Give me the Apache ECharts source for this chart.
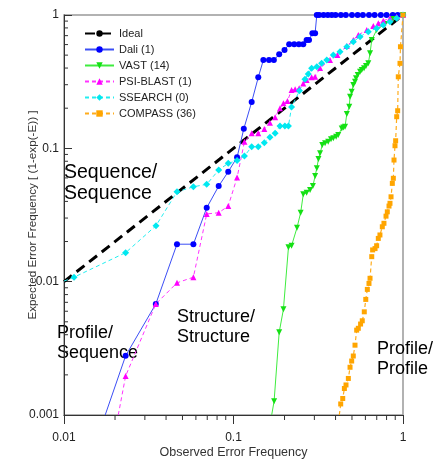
<!DOCTYPE html>
<html><head><meta charset="utf-8">
<script src="https://cdn.jsdelivr.net/npm/echarts@6/dist/echarts.min.js"></script>
<style>html,body{margin:0;padding:0;background:#fff}#c{width:436px;height:462px}</style>
</head><body><div id="c"></div>
<script>
const FONT = "'Liberation Sans', Arial, Helvetica, sans-serif";
const xTickLabels = ['0.01', '0.1', '1'];
const yTickLabels = ['0.001', '0.01', '0.1', '1'];
const seriesNames = ['Ideal', 'Dali (1)', 'VAST (14)', 'PSI-BLAST (1)', 'SSEARCH (0)', 'COMPASS (36)'];
const XMIN = 0.01, XMAX = 1, YMIN = 0.001, YMAX = 1;

const ideal = [[0.01, 0.01], [1, 1]];

const dali = [[0.0175,0.001],[0.0231,0.00278],[0.0348,0.0068],[0.0464,0.0191],[0.058,0.0191],[0.0695,0.0358],
  [0.0818,0.0521],[0.0931,0.0668],[0.105,0.0856],[0.115,0.14],[0.128,0.2225],[0.14,0.341],[0.15,0.459],
  [0.162,0.459],[0.173,0.459],[0.186,0.507],[0.2,0.546],[0.213,0.603],[0.228,0.603],[0.243,0.603],[0.258,0.603],
  [0.27,0.649],[0.279,0.649],[0.292,0.729],[0.303,0.729],[0.31,1],[0.32,1],[0.34,1],[0.36,1],[0.38,1],[0.4,1],
  [0.43,1],[0.46,1],[0.5,1],[0.54,1],[0.58,1],[0.63,1],[0.68,1],[0.74,1],[0.8,1],[0.87,1],[0.93,1],[1,1]];

const vast = [[0.168,0.001],[0.1736,0.00127],[0.186,0.00417],[0.197,0.0062],[0.211,0.0181],[0.22,0.0186],
  [0.237,0.0254],[0.249,0.0329],[0.258,0.0452],[0.27,0.0464],[0.283,0.0487],[0.294,0.0521],[0.303,0.062],
  [0.31,0.0708],[0.317,0.0831],[0.324,0.0917],[0.334,0.106],[0.347,0.109],[0.362,0.112],[0.376,0.1168],
  [0.388,0.119],[0.403,0.122],[0.415,0.126],[0.435,0.141],[0.445,0.143],[0.455,0.145],[0.466,0.181],
  [0.482,0.205],[0.487,0.244],[0.498,0.266],[0.509,0.298],[0.521,0.316],[0.528,0.335],[0.541,0.355],
  [0.558,0.376],[0.571,0.387],[0.589,0.398],[0.605,0.414],[0.624,0.434],[0.639,0.516],[0.654,0.649],
  [0.699,0.772],[0.783,0.856],[0.873,0.933],[1,1]];

const psiblast = [[0.0209,0.001],[0.0231,0.00196],[0.0348,0.0068],[0.0464,0.0098],[0.058,0.0108],[0.0695,0.0322],
  [0.0818,0.0329],[0.0931,0.0369],[0.105,0.0604],[0.116,0.112],[0.128,0.1296],[0.14,0.1296],[0.152,0.1396],
  [0.164,0.1556],[0.176,0.171],[0.188,0.1995],[0.197,0.218],[0.208,0.226],[0.22,0.274],[0.231,0.277],
  [0.244,0.282],[0.258,0.307],[0.27,0.325],[0.289,0.341],[0.303,0.344],[0.324,0.40],[0.371,0.459],
  [0.41,0.501],[0.466,0.585],[0.509,0.649],[0.545,0.708],[0.611,0.772],[0.668,0.827],[0.715,0.867],
  [0.765,0.906],[0.838,0.944],[0.918,0.971],[1,1]];

const ssearch = [[0.01,0.0101],[0.01146,0.0108],[0.0231,0.0165],[0.0349,0.0263],[0.0464,0.0472],[0.058,0.0515],
  [0.0695,0.0537],[0.0818,0.0688],[0.0931,0.0772],[0.105,0.081],[0.116,0.0876],[0.128,0.1028],[0.14,0.1028],
  [0.152,0.11],[0.164,0.121],[0.176,0.1296],[0.188,0.147],[0.201,0.147],[0.211,0.147],[0.22,0.204],
  [0.245,0.27],[0.264,0.33],[0.276,0.361],[0.289,0.398],[0.31,0.409],[0.331,0.434],[0.355,0.459],[0.388,0.501],
  [0.425,0.531],[0.466,0.578],[0.509,0.631],[0.558,0.688],[0.624,0.75],[0.699,0.795],[0.765,0.841],
  [0.838,0.891],[0.918,0.944],[1,1]];

const compass = [[0.421,0.001],[0.429,0.00121],[0.441,0.00133],[0.451,0.00158],[0.461,0.00168],[0.476,0.00188],
  [0.487,0.00228],[0.498,0.00254],[0.509,0.00277],[0.521,0.00334],[0.533,0.00433],[0.545,0.00447],
  [0.562,0.00481],[0.575,0.00509],[0.591,0.00594],[0.603,0.00736],[0.616,0.00875],[0.63,0.0097],
  [0.639,0.0106],[0.654,0.0154],[0.662,0.0173],[0.684,0.0177],[0.699,0.0186],[0.715,0.0211],[0.731,0.0224],
  [0.755,0.0258],[0.772,0.0274],[0.794,0.031],[0.808,0.0334],[0.827,0.0369],[0.838,0.0387],[0.85,0.0433],
  [0.865,0.0546],[0.877,0.0596],[0.885,0.0817],[0.897,0.1046],[0.905,0.114],[0.918,0.1726],[0.93,0.1914],
  [0.938,0.344],[0.96,0.434],[0.966,0.578],[1,1]];

const minorX = []; [0.01, 0.1].forEach(d => { for (let k = 2; k < 10; k++) minorX.push(d * k); });
const minorY = []; [0.001, 0.01, 0.1].forEach(d => { for (let k = 2; k < 10; k++) minorY.push(d * k); });

function pts(arr) {
  return arr.map(p => (p[1] <= YMIN || p[0] <= XMIN) ? { value: p, symbol: 'none' } : p);
}
function fmt(labels, offset) {
  return v => labels[Math.round(Math.log10(v)) + offset];
}

const chart = echarts.init(document.getElementById('c'), null, { renderer: 'canvas' });
const dash = [4, 3];
chart.setOption({
  animation: false,
  backgroundColor: '#fff',
  textStyle: { fontFamily: FONT },
  grid: { left: 64, right: 33, top: 15, bottom: 47, show: true, borderColor: '#999', borderWidth: 1.5,
          outerBoundsMode: 'none', containLabel: false },
  legend: {
    data: seriesNames, orient: 'vertical', left: 79, top: 23, itemWidth: 29, itemHeight: 8, itemGap: 5,
    textStyle: { fontSize: 11, color: '#222', fontFamily: FONT }
  },
  xAxis: {
    type: 'log', logBase: 10, min: XMIN, max: XMAX,
    axisLine: { lineStyle: { color: '#333', width: 1 } },
    axisTick: { inside: false, length: 9, lineStyle: { color: '#333' } },
    axisLabel: { margin: 17, fontSize: 12, color: '#222', fontFamily: FONT, formatter: fmt(xTickLabels, 2) },
    splitLine: { show: false },
    name: 'Observed Error Frequency', nameLocation: 'middle', nameGap: 31, nameMoveOverlap: false,
    nameTextStyle: { fontSize: 12.5, color: '#333', fontFamily: FONT }
  },
  yAxis: {
    type: 'log', logBase: 10, min: YMIN, max: YMAX,
    axisLine: { lineStyle: { color: '#333', width: 1 } },
    axisTick: { inside: true, length: 8, lineStyle: { color: '#333' } },
    axisLabel: { margin: 5, fontSize: 12, color: '#222', fontFamily: FONT, formatter: fmt(yTickLabels, 3) },
    splitLine: { show: false },
    name: 'Expected Error Frequency [ (1-exp(-E)) ]', nameLocation: 'middle', nameGap: 25, nameMoveOverlap: false,
    nameTextStyle: { fontSize: 11.7, color: '#333', fontFamily: FONT }
  },
  graphic: [
    { type: 'text', left: 64, top: 162, style: { text: 'Sequence/\nSequence', fontSize: 19.5, fontFamily: FONT, fill: '#000', lineHeight: 21 } },
    { type: 'text', left: 57, top: 323, style: { text: 'Profile/\nSequence', fontSize: 18, fontFamily: FONT, fill: '#000', lineHeight: 20 } },
    { type: 'text', left: 177, top: 307, style: { text: 'Structure/\nStructure', fontSize: 18, fontFamily: FONT, fill: '#000', lineHeight: 20 } },
    { type: 'text', left: 377, top: 339, style: { text: 'Profile/\nProfile', fontSize: 18, fontFamily: FONT, fill: '#000', lineHeight: 20 } }
  ],
  series: [
    {
      type: 'custom', silent: true, data: minorX.map(v => [v, YMIN]), z: 1,
      renderItem: (params, api) => {
        const p = api.coord([api.value(0), api.value(1)]);
        return { type: 'line', shape: { x1: p[0], y1: p[1], x2: p[0], y2: p[1] + 5 }, style: { stroke: '#333', lineWidth: 1 } };
      }
    },
    {
      type: 'custom', silent: true, data: minorY.map(v => [XMIN, v]), z: 1,
      renderItem: (params, api) => {
        const p = api.coord([api.value(0), api.value(1)]);
        return { type: 'line', shape: { x1: p[0], y1: p[1], x2: p[0] + 4, y2: p[1] }, style: { stroke: '#333', lineWidth: 1 } };
      }
    },
    { type: 'line', name: seriesNames[0], data: ideal, symbol: 'none', z: 2,
      lineStyle: { color: '#000', width: 3, type: [10, 6] }, itemStyle: { color: '#000' } },
    { type: 'line', name: seriesNames[1], data: pts(dali), symbol: 'circle', symbolSize: 6, z: 3,
      lineStyle: { color: '#3b4ef5', width: 1 }, itemStyle: { color: '#0000ff' } },
    { type: 'line', name: seriesNames[2], data: pts(vast), symbol: 'triangle', symbolRotate: 180, symbolSize: 6, z: 3,
      lineStyle: { color: '#3fec3f', width: 1 }, itemStyle: { color: '#14e014' } },
    { type: 'line', name: seriesNames[3], data: pts(psiblast), symbol: 'triangle', symbolSize: 6, z: 3,
      lineStyle: { color: '#ff33ff', width: 1, type: dash }, itemStyle: { color: '#ff00ff' } },
    { type: 'line', name: seriesNames[4], data: pts(ssearch), symbol: 'diamond', symbolSize: 7, z: 3,
      lineStyle: { color: '#22eef0', width: 1, type: dash }, itemStyle: { color: '#00e8f0' } },
    { type: 'line', name: seriesNames[5], data: pts(compass), symbol: 'rect', symbolSize: 5, z: 3,
      lineStyle: { color: '#ffac1c', width: 1.2, type: dash }, itemStyle: { color: '#ffa500' } }
  ]
});
</script></body></html>
